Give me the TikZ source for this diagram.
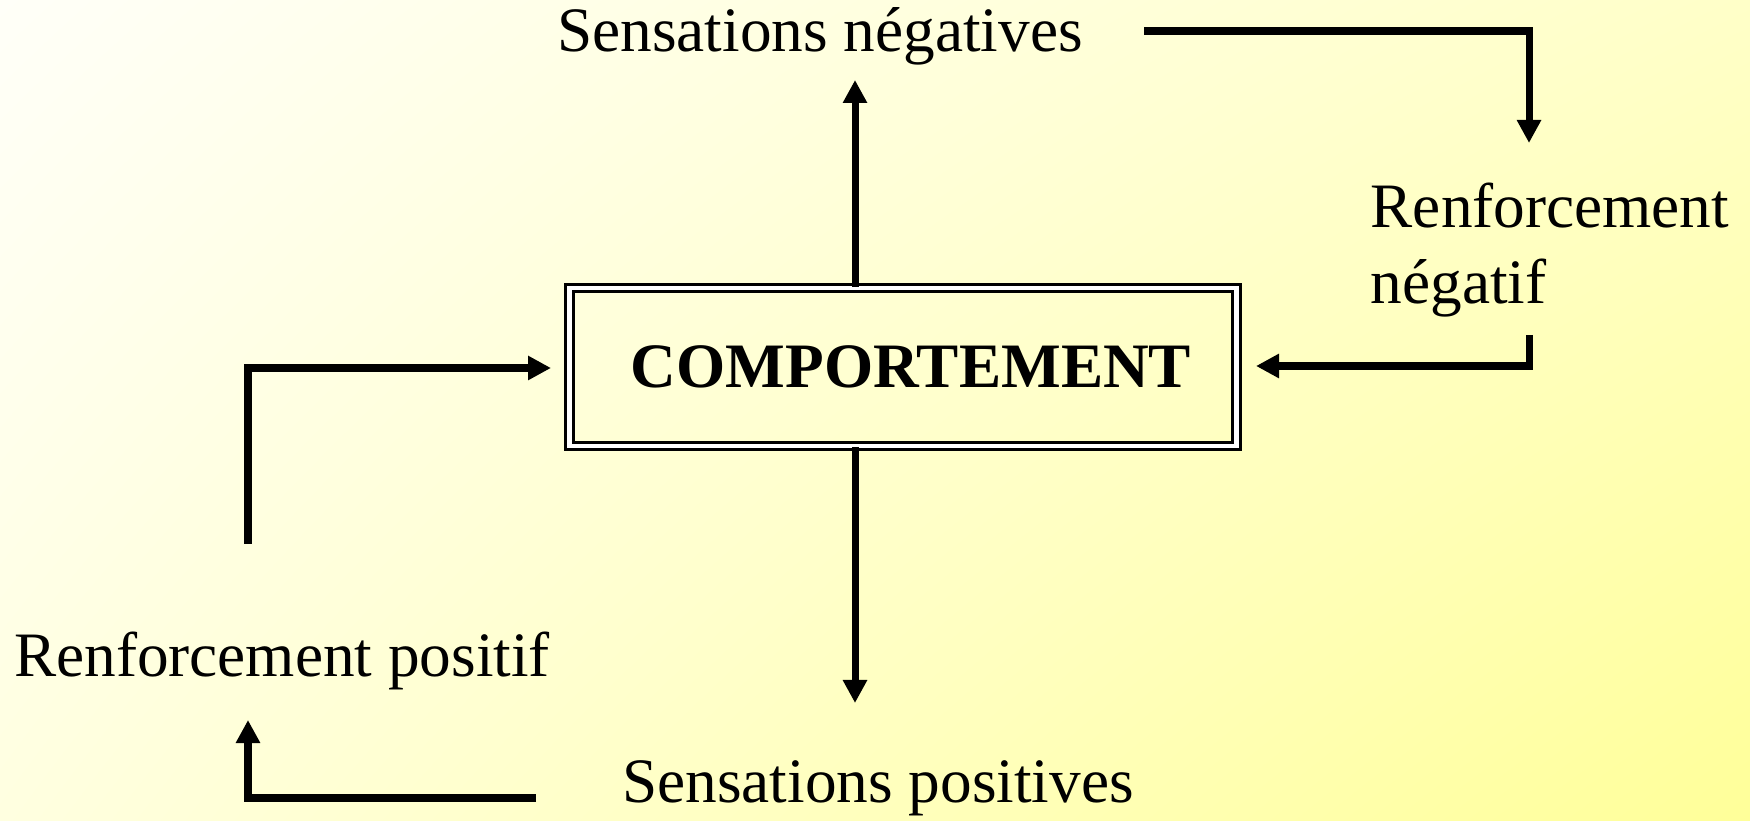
\documentclass[tikz,border=0pt]{standalone}
\usepackage{fontspec}
\setmainfont{Liberation Serif}
\usepackage{tikz}
\usetikzlibrary{arrows.meta,positioning,calc,shadings}
\definecolor{PaleUL}{HTML}{FFFFF8}
\definecolor{PaleUR}{HTML}{FFFFC8}
\definecolor{PaleLL}{HTML}{FFFFE0}
\definecolor{PaleLR}{HTML}{FFFF99}
\tikzset{
  flowarrow/.style={-{Triangle[length=2.3mm,width=2.3mm]}, line width=2pt, draw=black},
  labeltext/.style={font=\fontsize{18}{21.5}\selectfont, inner sep=0pt, align=left},
  corebox/.style={draw=black, double, double distance=1.3pt, line width=0.8pt, minimum width=6.67cm, minimum height=1.58cm, font=\fontsize{18}{21.5}\selectfont\bfseries},
}
\begin{document}
\begin{tikzpicture}[x=1cm,y=1cm]
\path[use as bounding box] (0,0) rectangle (17.5,8.2);
\shade[upper left=PaleUL,upper right=PaleUR,lower left=PaleLL,lower right=PaleLR] (0,0) rectangle (17.5,8.2);

\node[corebox] (comp) at (9.03,4.53) {\hspace{0.16cm}COMPORTEMENT};
\node[labeltext] (sensneg) at (8.20,7.84) {Sensations négatives};
\node[labeltext] (senspos) at (8.78,0.32) {Sensations positives};
\node[labeltext] (renfpos) at (2.82,1.59) {Renforcement positif};
\node[labeltext,anchor=west] (renfneg) at (13.70,5.70) {Renforcement\\négatif};

% points where the feedback loops turn
\coordinate (upTip) at (8.55,7.40);
\coordinate (downTip) at (8.55,1.17);
\coordinate (negStart) at (11.44,7.89);
\coordinate (negTip) at (15.29,6.77);
\coordinate (backStart) at (15.29,4.85);
\coordinate (backTip) at (12.56,4.54);
\coordinate (posStart) at (5.36,0.22);
\coordinate (posTip) at (2.48,1.00);
\coordinate (leftStart) at (2.48,2.76);
\coordinate (leftTip) at (5.51,4.52);

\draw[flowarrow] (comp.north -| upTip) -- (upTip);
\draw[flowarrow] (comp.south -| downTip) -- (downTip);
\draw[flowarrow] (negStart) -| (negTip);
\draw[flowarrow] (backStart) |- (backTip);
\draw[flowarrow] (posStart) -| (posTip);
\draw[flowarrow] (leftStart) |- (leftTip);
\end{tikzpicture}
\end{document}
